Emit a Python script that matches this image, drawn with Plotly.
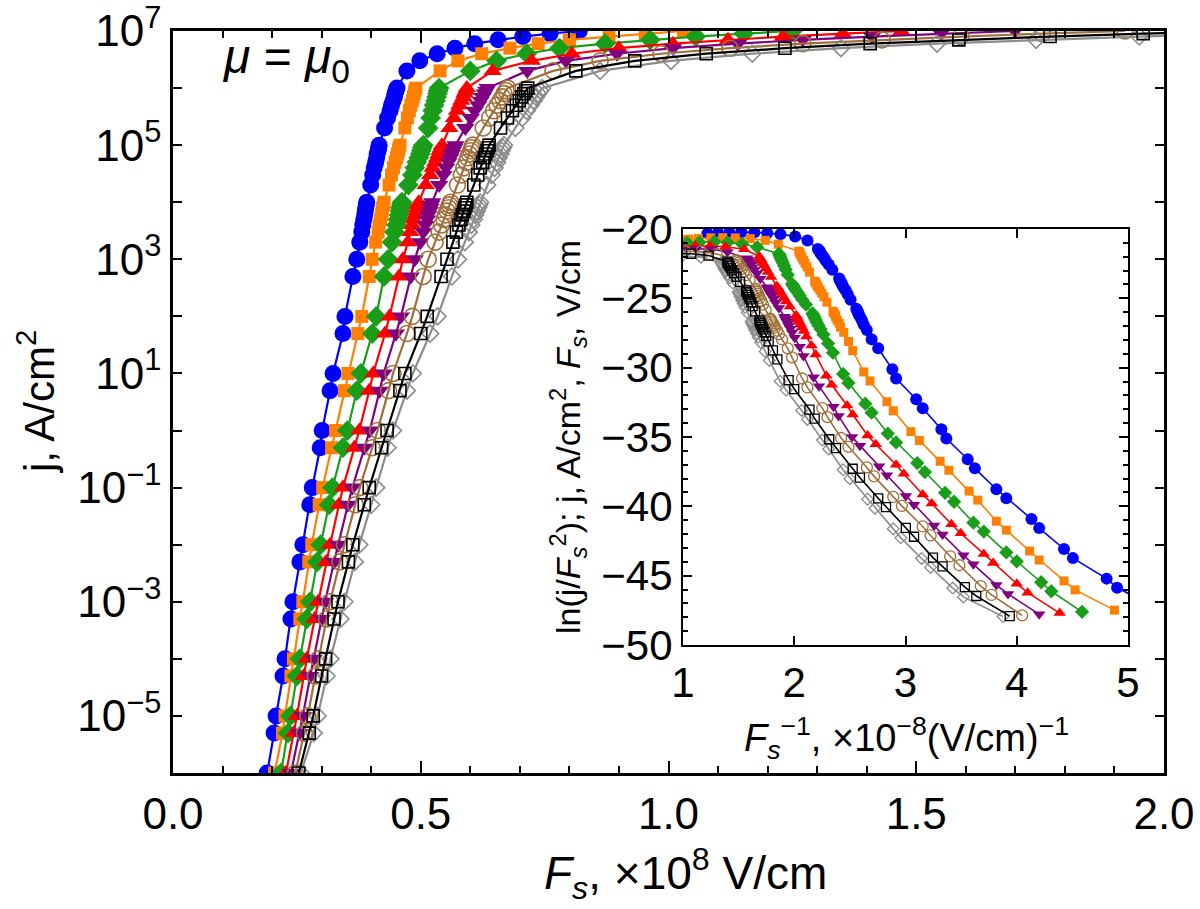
import numpy as np
import plotly.graph_objects as go

# current density levels (A/cm^2) sampled for every curve
J = [1e-6, 5e-6, 1e-5, 5e-5, 1e-4, 5e-4, 1e-3, 5e-3, 1e-2, 5e-2, 1e-1, 5e-1, 1, 5, 10, 50, 100, 500,
     1e3, 2e3, 3e3, 4e3, 5e3, 6e3, 7e3, 8e3, 9e3,
     1e4, 2e4, 3e4, 4e4, 5e4, 6e4, 7e4, 8e4, 9e4,
     1e5, 2e5, 3e5, 4e5, 5e5, 6e5, 7e5, 8e5, 9e5,
     1e6, 2e6, 3e6, 4e6, 5e6, 6e6, 7e6, 8e6, 9e6, 1e7]

# field F_s (x1e8 V/cm) at which each curve reaches the J levels
F_blue = [0.190, 0.204, 0.208, 0.222, 0.226, 0.238, 0.242, 0.256, 0.262, 0.276, 0.281, 0.297, 0.301, 0.317, 0.323, 0.343, 0.347, 0.363,
          0.371, 0.377, 0.381, 0.383, 0.385, 0.387, 0.388, 0.389, 0.390,
          0.391, 0.399, 0.403, 0.406, 0.409, 0.411, 0.412, 0.414, 0.415,
          0.416, 0.427, 0.433, 0.438, 0.441, 0.444, 0.447, 0.448, 0.450,
          0.452, 0.472, 0.498, 0.533, 0.569, 0.609, 0.656, 0.706, 0.761, 0.820]
F_orange = [0.205, 0.221, 0.226, 0.238, 0.243, 0.256, 0.262, 0.274, 0.280, 0.295, 0.302, 0.320, 0.328, 0.346, 0.353, 0.373, 0.381, 0.396,
            0.402, 0.409, 0.414, 0.416, 0.419, 0.421, 0.422, 0.423, 0.425,
            0.426, 0.436, 0.441, 0.445, 0.448, 0.451, 0.453, 0.455, 0.456,
            0.458, 0.468, 0.473, 0.477, 0.480, 0.483, 0.485, 0.487, 0.488,
            0.490, 0.539, 0.575, 0.623, 0.680, 0.737, 0.800, 0.880, 0.953, 1.030]
F_green = [0.218, 0.232, 0.237, 0.250, 0.256, 0.270, 0.277, 0.291, 0.298, 0.315, 0.322, 0.343, 0.352, 0.371, 0.379, 0.402, 0.410, 0.426,
           0.434, 0.442, 0.447, 0.451, 0.454, 0.456, 0.458, 0.459, 0.461,
           0.462, 0.475, 0.483, 0.488, 0.492, 0.496, 0.499, 0.501, 0.503,
           0.505, 0.515, 0.520, 0.524, 0.527, 0.530, 0.532, 0.534, 0.535,
           0.537, 0.600, 0.653, 0.714, 0.780, 0.872, 0.963, 1.055, 1.152, 1.250]
F_red = [0.228, 0.244, 0.250, 0.264, 0.270, 0.286, 0.293, 0.309, 0.317, 0.335, 0.343, 0.366, 0.376, 0.396, 0.404, 0.428, 0.437, 0.456,
         0.464, 0.474, 0.479, 0.483, 0.486, 0.489, 0.491, 0.493, 0.494,
         0.496, 0.510, 0.519, 0.524, 0.529, 0.533, 0.536, 0.538, 0.541,
         0.543, 0.558, 0.567, 0.573, 0.578, 0.582, 0.586, 0.588, 0.591,
         0.593, 0.645, 0.724, 0.805, 0.900, 1.009, 1.120, 1.231, 1.352, 1.470]
F_purple = [0.238, 0.255, 0.262, 0.277, 0.284, 0.300, 0.307, 0.325, 0.333, 0.353, 0.362, 0.386, 0.397, 0.417, 0.425, 0.450, 0.460, 0.480,
            0.488, 0.499, 0.505, 0.509, 0.513, 0.515, 0.518, 0.520, 0.521,
            0.523, 0.537, 0.546, 0.551, 0.556, 0.560, 0.563, 0.565, 0.568,
            0.570, 0.590, 0.601, 0.609, 0.616, 0.621, 0.625, 0.629, 0.632,
            0.635, 0.715, 0.793, 0.896, 1.009, 1.140, 1.271, 1.411, 1.550, 1.699]
F_brown = [0.247, 0.265, 0.272, 0.287, 0.294, 0.310, 0.317, 0.337, 0.346, 0.368, 0.377, 0.402, 0.413, 0.435, 0.444, 0.472, 0.483, 0.505,
           0.515, 0.529, 0.537, 0.542, 0.547, 0.550, 0.553, 0.556, 0.558,
           0.560, 0.574, 0.582, 0.587, 0.592, 0.595, 0.598, 0.601, 0.603,
           0.605, 0.626, 0.639, 0.647, 0.654, 0.660, 0.665, 0.668, 0.672,
           0.675, 0.767, 0.862, 0.985, 1.124, 1.271, 1.431, 1.590, 1.754, 1.921]
F_black = [0.254, 0.275, 0.283, 0.300, 0.308, 0.325, 0.333, 0.354, 0.363, 0.386, 0.396, 0.421, 0.432, 0.458, 0.468, 0.500, 0.513, 0.541,
           0.553, 0.565, 0.572, 0.577, 0.581, 0.584, 0.587, 0.589, 0.591,
           0.593, 0.607, 0.615, 0.620, 0.625, 0.628, 0.631, 0.634, 0.636,
           0.638, 0.661, 0.675, 0.685, 0.693, 0.699, 0.704, 0.708, 0.712,
           0.716, 0.813, 0.932, 1.076, 1.235, 1.407, 1.586, 1.770, 1.958, 2.150]
F_gray = [0.258, 0.284, 0.292, 0.310, 0.318, 0.338, 0.346, 0.367, 0.376, 0.400, 0.410, 0.433, 0.444, 0.472, 0.484, 0.519, 0.534, 0.563,
          0.575, 0.589, 0.597, 0.602, 0.607, 0.610, 0.613, 0.616, 0.618,
          0.620, 0.634, 0.643, 0.649, 0.654, 0.657, 0.661, 0.663, 0.666,
          0.668, 0.691, 0.705, 0.714, 0.722, 0.728, 0.733, 0.737, 0.741,
          0.745, 0.862, 1.005, 1.169, 1.348, 1.542, 1.742, 1.950, 2.160, 2.380]

y_tickvals = [1e-6, 1e-5, 1e-4, 1e-3, 1e-2, 1e-1, 1, 10, 100, 1e3, 1e4, 1e5, 1e6, 1e7]
y_ticktext = ["", "10<sup>−5</sup>", "", "10<sup>−3</sup>", "", "10<sup>−1</sup>", "", "10<sup>1</sup>", "",
              "10<sup>3</sup>", "", "10<sup>5</sup>", "", "10<sup>7</sup>"]
x_tickvals = [0.0, 0.5, 1.0, 1.5, 2.0]
x_ticktext = ["0.0", "0.5", "1.0", "1.5", "2.0"]

series = [
    # name, F data, color, symbol, main size, inset size
    ("blue", F_blue, "#0000FF", "circle", 17, 12),
    ("orange", F_orange, "#FF8000", "square", 13, 9),
    ("green", F_green, "#1A9E1A", "diamond", 16, 11),
    ("red", F_red, "#FF0000", "triangle-up", 16, 11),
    ("purple", F_purple, "#800080", "triangle-down", 16, 11),
    ("brown", F_brown, "#A0703C", "circle-open", 16, 11),
    ("gray", F_gray, "#8C8C8C", "diamond-open", 13, 9),
    ("black", F_black, "#000000", "square-open", 12, 9),
]

FONT = "Liberation Sans, Arial, sans-serif"
fig = go.Figure()
J_arr = np.array(J, dtype=float)
for name, F, color, sym, s_main, s_in in series:
    F_arr = np.array(F, dtype=float)
    open_sym = sym.endswith("open")
    mk_main = dict(symbol=sym, size=s_main, color=color,
                   line=dict(width=1.6 if open_sym else 0, color=color))
    fig.add_trace(go.Scatter(x=F_arr, y=J_arr, mode="lines+markers", name=name,
                             line=dict(color=color, width=2.2), marker=mk_main,
                             xaxis="x", yaxis="y", showlegend=False))
    # inset: the same points in Fowler-Nordheim coordinates
    inv_F = 1.0 / F_arr
    ln_jF2 = np.log(J_arr / (F_arr * 1e8) ** 2)
    mk_in = dict(symbol=sym, size=s_in, color=color,
                 line=dict(width=1.3 if open_sym else 0, color=color))
    fig.add_trace(go.Scatter(x=inv_F, y=ln_jF2, mode="lines+markers", name=name,
                             line=dict(color=color, width=1.6), marker=mk_in,
                             xaxis="x2", yaxis="y2", showlegend=False))

axis_common = dict(showline=True, linecolor="black", mirror="ticks", ticks="inside",
                   tickcolor="black", showgrid=False, zeroline=False, automargin=False,
                   ticklabeloverflow="allow")

fig.update_layout(
    width=1200, height=909, margin=dict(l=0, r=0, t=0, b=0, autoexpand=False),
    paper_bgcolor="white", plot_bgcolor="white",
    font=dict(family=FONT, color="black"),
    xaxis=dict(domain=[173/1200, 1164/1200], range=[0, 2], anchor="y",
               tickvals=x_tickvals, ticktext=x_ticktext, ticklen=12, tickwidth=2,
               linewidth=2.5, tickfont=dict(size=44, family=FONT),
               minor=dict(dtick=0.1, ticklen=7, tickwidth=2, ticks="inside", tickcolor="black"),
               **axis_common),
    yaxis=dict(domain=[1-773/909, 1-31/909], type="log", range=[-6, 7.0001], anchor="x",
               tickvals=y_tickvals, ticktext=y_ticktext, ticklen=9, tickwidth=2,
               linewidth=2.5, tickfont=dict(size=44, family=FONT), **axis_common),
    xaxis2=dict(domain=[683/1200, 1128/1200], range=[1, 5], anchor="y2",
                dtick=1, ticklen=9, tickwidth=2, linewidth=2,
                tickfont=dict(size=42, family=FONT), **axis_common),
    yaxis2=dict(domain=[1-645/909, 1-229/909], range=[-50, -20], anchor="x2",
                dtick=5, ticklen=9, tickwidth=2, linewidth=2,
                tickfont=dict(size=42, family=FONT),
                minor=dict(dtick=1, ticklen=5, tickwidth=1.5, ticks="inside", tickcolor="black"),
                **axis_common),
)

annotations = [
    dict(text="<i>F<sub>s</sub></i>, ×10<sup>8</sup> V/cm", x=685/1200, y=1-873/909,
         font=dict(size=46)),
    dict(text="j, A/cm<sup>2</sup>", x=36/1200, y=1-402/909, textangle=-90,
         font=dict(size=42)),
    dict(text="<i>μ</i> = <i>μ</i><sub>0</sub>", x=286/1200, y=1-60/909,
         font=dict(size=48)),
    dict(text="ln(j/<i>F<sub>s</sub></i><sup>2</sup>); j, A/cm<sup>2</sup>, <i>F<sub>s</sub></i>, V/cm",
         x=568/1200, y=1-437/909, textangle=-90, font=dict(size=34)),
    dict(text="<i>F<sub>s</sub></i><sup>−1</sup>, ×10<sup>−8</sup>(V/cm)<sup>−1</sup>",
         x=906/1200, y=1-738/909, font=dict(size=38)),
]
for a in annotations:
    a.update(xref="paper", yref="paper", showarrow=False, xanchor="center", yanchor="middle")
    a["font"].update(family=FONT, color="black")
fig.update_layout(annotations=annotations)

fig.write_html("out.html")
